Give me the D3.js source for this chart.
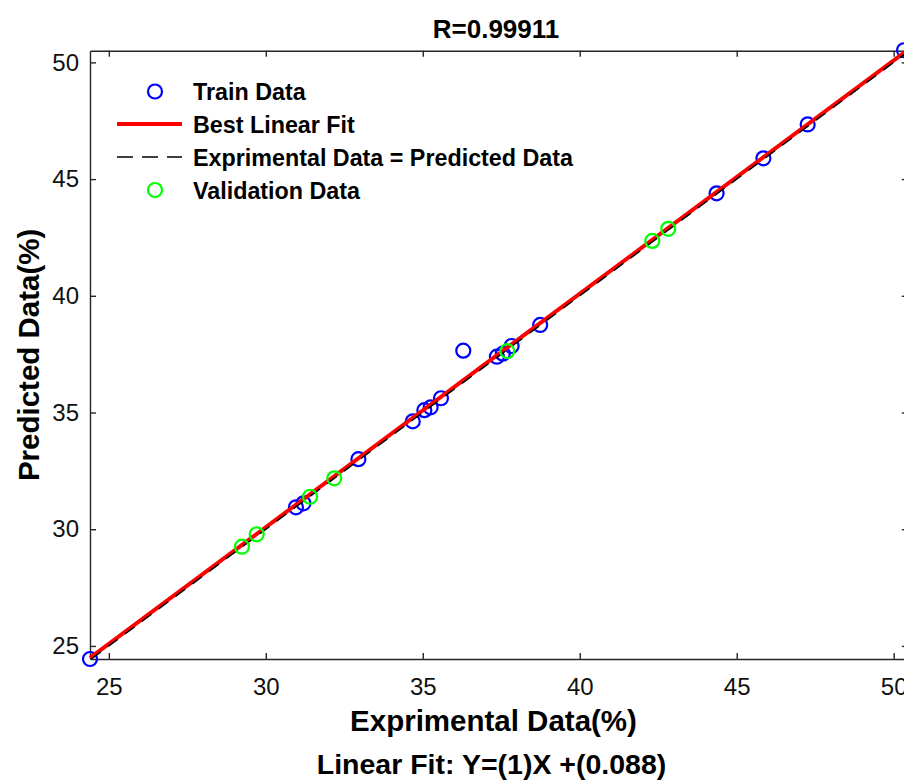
<!DOCTYPE html>
<html>
<head>
<meta charset="utf-8">
<script src="https://cdn.jsdelivr.net/npm/d3@7"></script>
<style>
  html, body { margin: 0; padding: 0; background: #fff; }
  svg { display: block; font-family: "Liberation Sans", Arial, sans-serif; }
</style>
</head>
<body>
<svg id="chart" width="904" height="780"></svg>
<script>
// ---- data ----
const trainX = [24.40, 30.96, 31.20, 32.95, 34.68, 35.05, 35.25, 35.58, 36.29, 37.36, 37.55, 37.83, 38.74, 44.36, 45.85, 47.26, 50.33];
const trainY = [24.44, 30.94, 31.11, 33.00, 34.62, 35.10, 35.22, 35.61, 37.65, 37.39, 37.52, 37.85, 38.75, 44.39, 45.89, 47.34, 50.52];
const valX = [29.24, 29.71, 31.41, 32.18, 37.69, 42.31, 42.82];
const valY = [29.25, 29.78, 31.39, 32.18, 37.63, 42.35, 42.87];
const fitSlope = 1;
const fitIntercept = 0.088;
const xTicks = [25, 30, 35, 40, 45, 50];
const yTicks = [25, 30, 35, 40, 45, 50];
const xDomain = [24.4, 50.45];
const yDomain = [24.44, 50.5];
const titleText = "R=0.99911";
const xLabelText = "Exprimental Data(%)";
const xLabel2Text = "Linear Fit: Y=(1)X +(0.088)";
const yLabelText = "Predicted Data(%)";
const legendItems = ["Train Data", "Best Linear Fit", "Exprimental Data = Predicted Data", "Validation Data"];

// ---- layout ----
const svg = d3.select("#chart");
const L = 90, T = 50.7, B = 659, R = 907.8;
const x = d3.scaleLinear().domain(xDomain).range([L, R]);
const y = d3.scaleLinear().domain(yDomain).range([B, T]);
const axisColor = "#262626";
const tickLen = 6;

function styleAxis(g) {
  g.selectAll(".domain").attr("stroke", axisColor).attr("stroke-width", 1.4);
  g.selectAll(".tick line").attr("stroke", axisColor).attr("stroke-width", 1.4);
  g.selectAll(".tick text").attr("fill", "#111").style("font-size", "24px")
    .style("font-family", "'Liberation Sans', Arial, sans-serif");
}
svg.append("g").attr("transform", `translate(0,${B})`)
  .call(d3.axisBottom(x).tickValues(xTicks).tickSize(-tickLen).tickSizeOuter(0).tickPadding(19))
  .call(styleAxis);
svg.append("g").attr("transform", `translate(0,${T})`)
  .call(d3.axisTop(x).tickValues(xTicks).tickSize(-tickLen).tickSizeOuter(0).tickFormat(""))
  .call(styleAxis);
svg.append("g").attr("transform", `translate(${L},0)`)
  .call(d3.axisLeft(y).tickValues(yTicks).tickSize(-tickLen).tickSizeOuter(0).tickPadding(11))
  .call(styleAxis);
svg.append("g").attr("transform", `translate(${R},0)`)
  .call(d3.axisRight(y).tickValues(yTicks).tickSize(-tickLen).tickSizeOuter(0).tickFormat(""))
  .call(styleAxis);

// marks
const trainData = trainX.map((v, i) => [v, trainY[i]]);
const valData = valX.map((v, i) => [v, valY[i]]);
const r = 7;

svg.append("g").selectAll("circle").data(trainData).join("circle")
  .attr("cx", d => x(d[0])).attr("cy", d => y(d[1])).attr("r", r)
  .attr("fill", "none").attr("stroke", "#0000ff").attr("stroke-width", 2.2);

const line = d3.line().x(d => x(d[0])).y(d => y(d[1]));
const fitClip = [[xDomain[0], fitSlope * xDomain[0] + fitIntercept], [(yDomain[1] - fitIntercept) / fitSlope, yDomain[1]]];
svg.append("path").attr("d", line(fitClip))
  .attr("fill", "none").attr("stroke", "#ff0000").attr("stroke-width", 4);
const lo = Math.max(xDomain[0], yDomain[0]), hi = Math.min(xDomain[1], yDomain[1]);
svg.append("path").attr("d", line([[lo, lo], [hi, hi]]))
  .attr("fill", "none").attr("stroke", "#000").attr("stroke-width", 1.5)
  .attr("stroke-dasharray", "12,9");

svg.append("g").selectAll("circle").data(valData).join("circle")
  .attr("cx", d => x(d[0])).attr("cy", d => y(d[1])).attr("r", r)
  .attr("fill", "none").attr("stroke", "#00ff00").attr("stroke-width", 2.2);

// legend
const lg = svg.append("g");
const rowY = [91.5, 124, 157, 190];
const symX = 155, lineX0 = 117, lineX1 = 182, textX = 193;
lg.append("circle").attr("cx", symX).attr("cy", rowY[0]).attr("r", r)
  .attr("fill", "none").attr("stroke", "#0000ff").attr("stroke-width", 2.2);
lg.append("line").attr("x1", lineX0).attr("x2", lineX1).attr("y1", rowY[1]).attr("y2", rowY[1])
  .attr("stroke", "#ff0000").attr("stroke-width", 4);
lg.append("line").attr("x1", lineX0).attr("x2", lineX1).attr("y1", rowY[2]).attr("y2", rowY[2])
  .attr("stroke", "#000").attr("stroke-width", 1.5).attr("stroke-dasharray", "16,9");
lg.append("circle").attr("cx", symX).attr("cy", rowY[3]).attr("r", r)
  .attr("fill", "none").attr("stroke", "#00ff00").attr("stroke-width", 2.2);
lg.selectAll("text").data(legendItems).join("text")
  .attr("x", textX).attr("y", (d, i) => rowY[i] + 8.5)
  .attr("font-size", 23.3).attr("font-weight", "bold").attr("fill", "#000")
  .text(d => d);

// titles
svg.append("text").attr("x", 496).attr("y", 38).attr("text-anchor", "middle")
  .attr("font-size", 26).attr("font-weight", "bold").text(titleText);
svg.append("text").attr("x", 493.5).attr("y", 731).attr("text-anchor", "middle")
  .attr("font-size", 29.5).attr("font-weight", "bold").text(xLabelText);
svg.append("text").attr("x", 491.5).attr("y", 774).attr("text-anchor", "middle")
  .attr("font-size", 28.5).attr("font-weight", "bold").text(xLabel2Text);
svg.append("text").attr("transform", `translate(39,${(T + B) / 2}) rotate(-90)`)
  .attr("text-anchor", "middle")
  .attr("font-size", 29.5).attr("font-weight", "bold").text(yLabelText);
</script>
</body>
</html>
